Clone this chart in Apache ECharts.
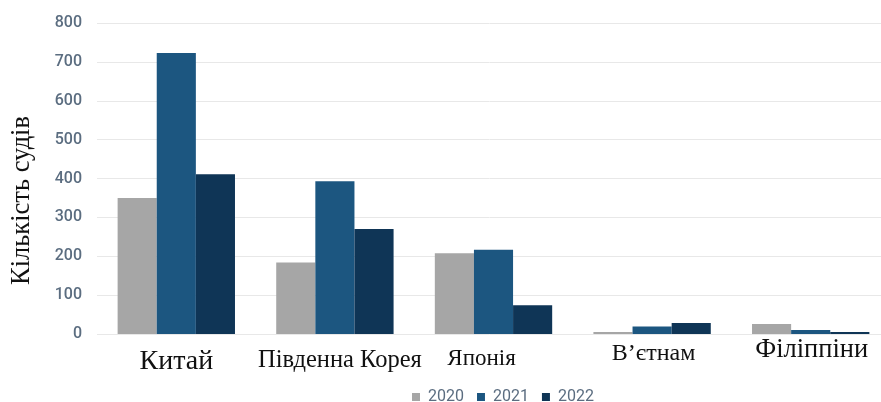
<!DOCTYPE html>
<html>
<head>
<meta charset="utf-8">
<script src="https://cdn.jsdelivr.net/npm/echarts@6/dist/echarts.min.js"></script>
<style>
  html, body { margin: 0; padding: 0; background: #fff; }
  #chart { width: 881px; height: 402px; }
</style>
</head>
<body>
<div id="chart"></div>
<script>
// Кількість судів за країнами будівництва, 2020–2022
const countries = ['Китай', 'Південна Корея', 'Японія', 'В’єтнам', 'Філіппіни'];
const years = ['2020', '2021', '2022'];
const values2020 = [350, 184, 208, 5, 26];
const values2021 = [723, 393, 217, 19, 10];
const values2022 = [411, 270, 74, 28, 5];
const yTicks = [0, 100, 200, 300, 400, 500, 600, 700, 800];

const colors = ['#a6a6a6', '#1c5680', '#0f3556'];

// each country label has its own size and offset
const labelStyles = {
  l0: { fontSize: 28, padding: [14, 0, 0, 0] },
  l1: { fontSize: 24.5, padding: [14, 0, 0, 10] },
  l2: { fontSize: 23, padding: [13, 24, 0, 0] },
  l3: { fontSize: 24, padding: [8, 0, 0, 3] },
  l4: { fontSize: 26.5, padding: [3, 0, 0, 2] }
};
Object.values(labelStyles).forEach(s => {
  s.fontFamily = '"Liberation Serif", "DejaVu Serif", serif';
  s.color = '#111';
});

const seriesValues = [values2020, values2021, values2022];

const chart = echarts.init(document.getElementById('chart'), null, { renderer: 'canvas' });
chart.setOption({
  animation: false,
  color: colors,
  grid: { left: 97, width: 793, top: 23, height: 311, outerBoundsMode: 'none', containLabel: false },
  legend: {
    data: years,
    top: 384,
    left: 407,
    icon: 'rect',
    itemWidth: 8,
    itemHeight: 8,
    itemGap: 13,
    textStyle: { fontFamily: 'Roboto', fontSize: 16, color: '#5b6d80', padding: [0, 0, 0, 3] }
  },
  xAxis: {
    type: 'category',
    data: countries,
    axisLine: { show: false },
    axisTick: { show: false },
    axisLabel: {
      interval: 0,
      margin: 0,
      hideOverlap: false,
      formatter: (v, i) => '{l' + i + '|' + v + '}',
      rich: labelStyles
    }
  },
  yAxis: {
    type: 'value',
    min: yTicks[0],
    max: yTicks[yTicks.length - 1],
    interval: yTicks[1] - yTicks[0],
    name: 'Кількість судів',
    nameLocation: 'middle',
    nameRotate: 90,
    nameGap: 61,
    nameTextStyle: {
      fontFamily: '"Liberation Serif", serif',
      fontSize: 26.5,
      color: '#111',
      padding: [0, 44, 0, 0]
    },
    axisLabel: {
      margin: 15,
      fontFamily: 'Roboto',
      fontSize: 16,
      fontWeight: 500,
      color: '#5b6d80'
    },
    splitLine: { lineStyle: { color: '#e8e8e8', width: 1 } }
  },
  series: years.map((y, k) => ({
    name: y,
    type: 'bar',
    data: seriesValues[k],
    barGap: '0%',
    barCategoryGap: '26%'
  }))
});
</script>
</body>
</html>
